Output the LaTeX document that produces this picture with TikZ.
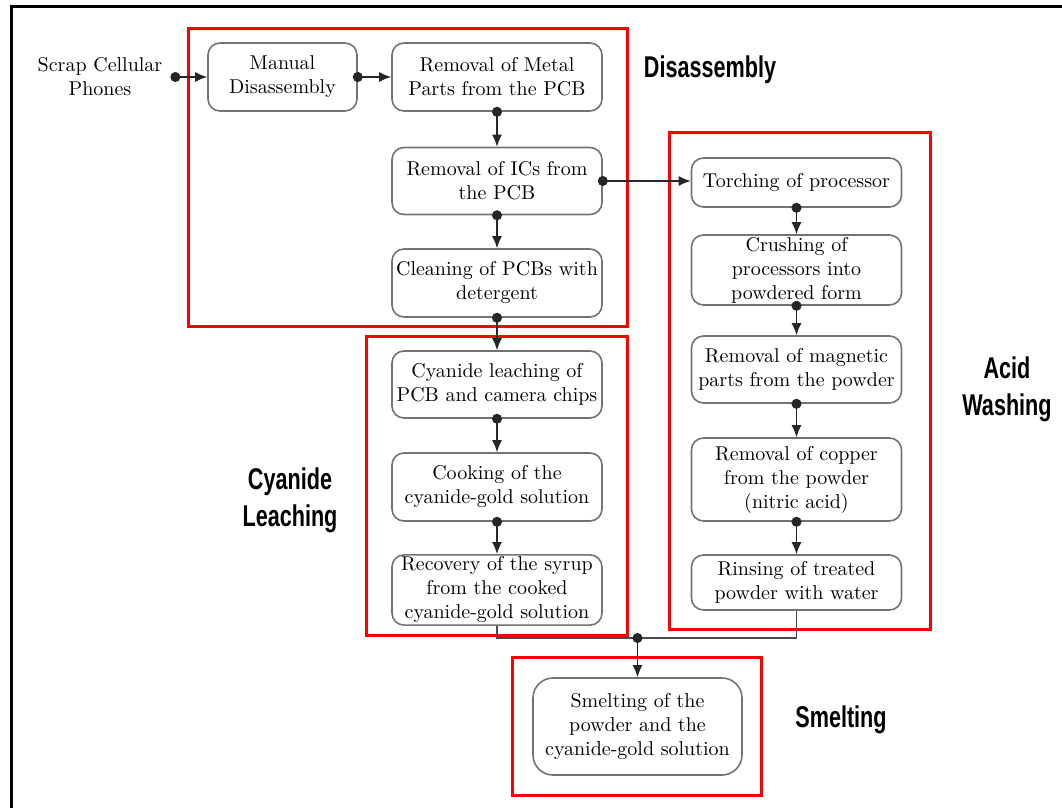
\documentclass[tikz,border=0pt]{standalone}
\usepackage{fontspec}
\newfontfamily\etichetta[FakeStretch=0.72]{Liberation Sans Bold}
\usetikzlibrary{arrows.meta}

\tikzset{
    stepbox/.style={draw=black!55, line width=0.8pt, rounded corners=6pt, align=center,
        minimum width=105pt, inner sep=1pt, font=\fontsize{10}{12}\selectfont},
    dotarrow/.style={draw=black!85, line width=0.7pt, {Circle[length=5pt]}-{Latex[length=6pt,width=5pt]}, shorten <=-2.5pt},
    gruppo/.style={draw=red, line width=1.5pt},
    nomegruppo/.style={font=\etichetta\fontsize{15}{18.5}\selectfont, align=center}
}

\begin{document}
\begin{tikzpicture}[x=0.5pt, y=-0.5pt]
        \useasboundingbox (0,0) rectangle (1062,808);

        % Cornice esterna
        \draw[line width=1.5pt] (11,808) |- (1062,7);

        % Riquadri rossi dei gruppi
        \draw[gruppo] (188,29) rectangle (627,327);
        \draw[gruppo] (366,337) rectangle (627,635);
        \draw[gruppo] (669,133) rectangle (930,629);
        \draw[gruppo] (512,657) rectangle (761,795);

        % Nomi dei gruppi
        \node[nomegruppo] (tdis) at (710,70) {Disassembly};
        \node[nomegruppo] (tcyan) at (290,500) {Cyanide\\Leaching};
        \node[nomegruppo] (tacid) at (1007,389) {Acid\\Washing};
        \node[nomegruppo] (tsmelt) at (841,720) {Smelting};

        % Ingresso
        \node[align=center, font=\fontsize{10}{12}\selectfont] (scrap) at (100,77) {Scrap Cellular\\Phones};

        % Colonna sinistra
        \node[stepbox, minimum width=74.5pt, minimum height=34pt] (manual) at (282.5,77) {Manual\\Disassembly};
        \node[stepbox, minimum height=34pt] (metal) at (497,77) {Removal of Metal\\Parts from the PCB};
        \node[stepbox, minimum height=33.5pt] (ics) at (497,181) {Removal of ICs from\\the PCB};
        \node[stepbox, minimum height=34pt] (clean) at (497,283) {Cleaning of PCBs with\\detergent};
        \node[stepbox, minimum height=33.5pt] (cyleach) at (497,384.5) {Cyanide leaching of\\PCB and camera chips};
        \node[stepbox, minimum height=34pt] (cook) at (497,487) {Cooking of the\\cyanide-gold solution};
        \node[stepbox, minimum height=35pt] (recov) at (497,590) {Recovery of the syrup\\from the cooked\\cyanide-gold solution};

        % Colonna destra
        \node[stepbox, minimum height=24.5pt] (torch) at (796.5,182.5) {Torching of processor};
        \node[stepbox, minimum height=34pt] (crush) at (796.5,270) {Crushing of\\processors into\\powdered form};
        \node[stepbox, minimum height=33.5pt] (magnet) at (796.5,369.5) {Removal of magnetic\\parts from the powder};
        \node[stepbox, minimum height=41.5pt] (copper) at (796.5,479.5) {Removal of copper\\from the powder\\(nitric acid)};
        \node[stepbox, minimum height=27.5pt] (rinse) at (796.5,582.5) {Rinsing of treated\\powder with water};

        % Fusione
        \node[stepbox, minimum width=104.5pt, minimum height=48.5pt, rounded corners=10pt] (smelt) at (637.5,726.5) {Smelting of the\\powder and the\\cyanide-gold solution};

        % Collegamenti
        \draw[dotarrow] (scrap.east) ++(6,0) coordinate (inscrap) (inscrap) -- (manual.west);
        \draw[dotarrow] (manual) -- (metal);
        \draw[dotarrow] (metal) -- (ics);
        \draw[dotarrow] (ics) -- (clean);
        \draw[dotarrow] (clean) -- (cyleach);
        \draw[dotarrow] (cyleach) -- (cook);
        \draw[dotarrow] (cook) -- (recov);
        \draw[dotarrow] (ics.east) -- (ics.east -| torch.west);
        \draw[dotarrow] (torch) -- (crush);
        \draw[dotarrow] (crush) -- (magnet);
        \draw[dotarrow] (magnet) -- (copper);
        \draw[dotarrow] (copper) -- (rinse);

        % Unione verso la fusione
        \coordinate (join) at (637.5,638);
        \draw[black!70, line width=0.7pt] (recov.south) |- (join) -| (rinse.south);
        \draw[dotarrow] (join) -- (smelt.north);
    \end{tikzpicture}
\end{document}
